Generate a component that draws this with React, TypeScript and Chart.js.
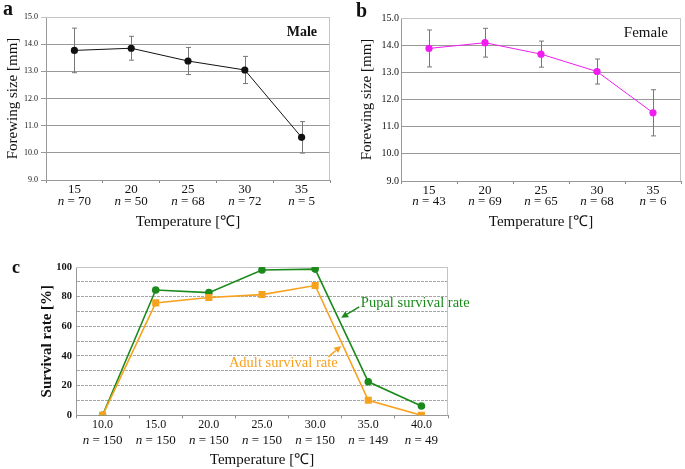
import React, { useEffect, useRef } from 'react';
import { Chart, registerables } from 'chart.js';

Chart.register(...registerables);

const FONT = '"Liberation Serif", "Times New Roman", serif';
const TEXT = '#111';
const GREEN = '#1b8a1b';
const ORANGE = '#f6a21e';
const MAGENTA = '#f01cf0';

// ---- Data ----
const tempsAB = ['15', '20', '25', '30', '35'];
const maleN = [70, 50, 68, 72, 5];
const maleMean = [13.77, 13.85, 13.38, 13.05, 10.57];
const maleSD = [0.82, 0.44, 0.5, 0.5, 0.58];
const femaleN = [43, 69, 65, 68, 6];
const femaleMean = [13.88, 14.09, 13.67, 13.03, 11.51];
const femaleSD = [0.68, 0.53, 0.48, 0.46, 0.85];

const tempsC = ['10.0', '15.0', '20.0', '25.0', '30.0', '35.0', '40.0'];
const survN = [150, 150, 150, 150, 150, 149, 49];
const pupalRate = [0, 84.5, 82.7, 98.0, 98.6, 22.6, 6.3];
const adultRate = [0, 75.8, 79.4, 81.4, 87.5, 10.1, 0];

const survivalNotes = [
  { text: 'Pupal survival rate', color: GREEN, at: [4.86, 75.6], align: 'left', from: [4.83, 73.1], to: [4.49, 65.7] },
  { text: 'Adult survival rate', color: ORANGE, at: [3.4, 35.2], align: 'center', from: [4.25, 39.4], to: [4.49, 46.8] },
];

// ---- Plugins ----
function errorBarPlugin(means: number[], sds: number[]) {
  return {
    id: 'errbars',
    beforeDatasetsDraw(chart: any) {
      const { ctx } = chart;
      const x = chart.scales.x;
      const y = chart.scales.y;
      ctx.save();
      ctx.strokeStyle = '#777';
      ctx.lineWidth = 1;
      means.forEach((m, i) => {
        const px = Math.round(x.getPixelForValue(i)) + 0.5;
        const top = y.getPixelForValue(m + sds[i]);
        const bot = y.getPixelForValue(m - sds[i]);
        ctx.beginPath();
        ctx.moveTo(px, top);
        ctx.lineTo(px, bot);
        ctx.moveTo(px - 2.5, top);
        ctx.lineTo(px + 2.5, top);
        ctx.moveTo(px - 2.5, bot);
        ctx.lineTo(px + 2.5, bot);
        ctx.stroke();
      });
      ctx.restore();
    },
  };
}

function nLabelPlugin(ns: number[], offsetY: number, size: number) {
  return {
    id: 'nlabels',
    afterDraw(chart: any) {
      const { ctx, chartArea } = chart;
      const x = chart.scales.x;
      const italic = `italic ${size}px ${FONT}`;
      const reg = `${size}px ${FONT}`;
      ctx.save();
      ctx.fillStyle = TEXT;
      ctx.textBaseline = 'middle';
      ctx.textAlign = 'left';
      ns.forEach((n, i) => {
        ctx.font = italic;
        const w1 = ctx.measureText('n').width;
        const rest = ` = ${n}`;
        ctx.font = reg;
        const w2 = ctx.measureText(rest).width;
        const cx = x.getPixelForValue(i);
        const start = cx - (w1 + w2) / 2;
        const yy = chartArea.bottom + offsetY;
        ctx.font = italic;
        ctx.fillText('n', start, yy);
        ctx.font = reg;
        ctx.fillText(rest, start + w1, yy);
      });
      ctx.restore();
    },
  };
}

const framePlugin = {
  id: 'frame',
  beforeDatasetsDraw(chart: any) {
    const { ctx, chartArea } = chart;
    ctx.save();
    ctx.strokeStyle = '#c4c4c4';
    ctx.lineWidth = 1;
    ctx.beginPath();
    const r = Math.round(chartArea.right) - 0.5;
    const t = Math.round(chartArea.top) + 0.5;
    ctx.moveTo(chartArea.left, t);
    ctx.lineTo(r, t);
    ctx.lineTo(r, chartArea.bottom);
    ctx.stroke();
    ctx.restore();
  },
};

function cornerLabelPlugin(text: string, bold: boolean, size: number) {
  return {
    id: 'corner',
    afterDraw(chart: any) {
      const { ctx, chartArea } = chart;
      ctx.save();
      ctx.fillStyle = TEXT;
      ctx.font = `${bold ? 'bold ' : ''}${size}px ${FONT}`;
      ctx.textAlign = 'right';
      ctx.textBaseline = 'middle';
      ctx.fillText(text, chartArea.right - 13, chartArea.top + 15);
      ctx.restore();
    },
  };
}

const notesPlugin = {
  id: 'notes',
  afterDraw(chart: any) {
    const { ctx } = chart;
    const x = chart.scales.x;
    const y = chart.scales.y;
    ctx.save();
    survivalNotes.forEach((n) => {
      ctx.fillStyle = n.color;
      ctx.strokeStyle = n.color;
      ctx.font = `14.5px ${FONT}`;
      ctx.textAlign = n.align as CanvasTextAlign;
      ctx.textBaseline = 'middle';
      ctx.fillText(n.text, x.getPixelForValue(n.at[0]), y.getPixelForValue(n.at[1]));
      const fx = x.getPixelForValue(n.from[0]);
      const fy = y.getPixelForValue(n.from[1]);
      const tx = x.getPixelForValue(n.to[0]);
      const ty = y.getPixelForValue(n.to[1]);
      const ang = Math.atan2(ty - fy, tx - fx);
      const len = 7;
      const hw = 3.5;
      const bx = tx - len * Math.cos(ang);
      const by = ty - len * Math.sin(ang);
      ctx.lineWidth = 1.5;
      ctx.beginPath();
      ctx.moveTo(fx, fy);
      ctx.lineTo(bx, by);
      ctx.stroke();
      ctx.beginPath();
      ctx.moveTo(tx, ty);
      ctx.lineTo(bx + hw * Math.sin(ang), by - hw * Math.cos(ang));
      ctx.lineTo(bx - hw * Math.sin(ang), by + hw * Math.cos(ang));
      ctx.closePath();
      ctx.fill();
    });
    ctx.restore();
  },
};

// ---- Configs ----
function forewingConfig(opts: {
  means: number[]; sds: number[]; ns: number[]; color: string; corner: string; cornerBold: boolean; cornerSize: number;
  tickSize: number; yWidth: number; padRight: number; padTop: number; xHeight: number; yTitlePad: number; xTitlePad: number;
  yTickPad: number; yTickLen: number; nOffset: number;
}): any {
  return {
    type: 'line',
    data: {
      labels: tempsAB,
      datasets: [
        {
          data: opts.means,
          borderColor: opts.color,
          borderWidth: 1,
          pointBackgroundColor: opts.color,
          pointBorderColor: opts.color,
          pointBorderWidth: 0,
          pointRadius: 3.6,
          tension: 0,
        },
      ],
    },
    options: {
      animation: false,
      responsive: true,
      maintainAspectRatio: false,
      layout: { padding: { left: 0, right: opts.padRight, top: opts.padTop, bottom: 0 } },
      plugins: { legend: { display: false }, tooltip: { enabled: false } },
      scales: {
        x: {
          type: 'category',
          offset: true,
          grid: { offset: true, drawOnChartArea: false, drawTicks: true, tickLength: 3, color: '#888' },
          border: { color: '#999' },
          ticks: { color: TEXT, font: { family: FONT, size: 13, lineHeight: 1 }, padding: 0, maxRotation: 0, autoSkip: false },
          title: {
            display: true,
            text: 'Temperature [℃]',
            color: TEXT,
            font: { family: FONT, size: 15, lineHeight: 1.2 },
            padding: { top: 0, bottom: opts.xTitlePad },
          },
          afterFit: (s: any) => { s.height = opts.xHeight; },
        },
        y: {
          min: 9,
          max: 15,
          ticks: {
            stepSize: 1,
            autoSkip: false,
            color: TEXT,
            font: { family: FONT, size: opts.tickSize },
            padding: opts.yTickPad,
            callback: (v: any) => Number(v).toFixed(1),
          },
          grid: {
            color: (c: any) => (c.tick && c.tick.value === 15 ? '#c4c4c4' : '#999'),
            drawTicks: opts.yTickLen > 0,
            tickLength: opts.yTickLen,
          },
          border: { color: '#999' },
          title: {
            display: true,
            text: 'Forewing size [mm]',
            color: TEXT,
            font: { family: FONT, size: 15, lineHeight: 1.2 },
            padding: { top: opts.yTitlePad, bottom: 0 },
          },
          afterFit: (s: any) => { s.width = opts.yWidth; },
        },
      },
    },
    plugins: [framePlugin, errorBarPlugin(opts.means, opts.sds), nLabelPlugin(opts.ns, opts.nOffset, 13), cornerLabelPlugin(opts.corner, opts.cornerBold, opts.cornerSize)],
  };
}

function survivalConfig(): any {
  return {
    type: 'line',
    data: {
      labels: tempsC,
      datasets: [
        {
          label: 'Adult survival rate',
          data: adultRate,
          borderColor: ORANGE,
          borderWidth: 1.6,
          pointStyle: 'rect',
          pointRadius: 5,
          pointBackgroundColor: ORANGE,
          pointBorderColor: ORANGE,
          pointBorderWidth: 0,
          tension: 0,
        },
        {
          label: 'Pupal survival rate',
          data: pupalRate,
          borderColor: GREEN,
          borderWidth: 1.6,
          pointStyle: 'circle',
          pointRadius: 3.8,
          pointBackgroundColor: GREEN,
          pointBorderColor: GREEN,
          pointBorderWidth: 0,
          tension: 0,
        },
      ],
    },
    options: {
      animation: false,
      responsive: true,
      maintainAspectRatio: false,
      layout: { padding: { left: 0, right: 52, top: 17, bottom: 0 } },
      plugins: { legend: { display: false }, tooltip: { enabled: false } },
      scales: {
        x: {
          type: 'category',
          offset: true,
          grid: { offset: true, drawOnChartArea: false, drawTicks: true, tickLength: 3, color: '#888' },
          border: { color: '#999' },
          ticks: { color: TEXT, font: { family: FONT, size: 12, lineHeight: 1 }, padding: 1, maxRotation: 0, autoSkip: false },
          title: {
            display: true,
            text: 'Temperature [℃]',
            color: TEXT,
            font: { family: FONT, size: 15, lineHeight: 1.2 },
            padding: { top: 0, bottom: 0 },
          },
          afterFit: (s: any) => { s.height = 53.7; },
        },
        y: {
          min: 0,
          max: 100,
          ticks: {
            stepSize: 10,
            autoSkip: false,
            color: TEXT,
            font: { family: FONT, size: 10.5, weight: 'bold' },
            padding: 4,
            callback: (v: any) => (Number(v) % 20 === 0 ? String(v) : ''),
          },
          grid: {
            color: (c: any) => (c.tick && c.tick.value === 100 ? '#c4c4c4' : '#a6a6a6'),
            drawTicks: false,
          },
          border: { color: '#999', dash: [3, 1] },
          title: {
            display: true,
            text: 'Survival rate [%]',
            color: TEXT,
            font: { family: FONT, size: 15, weight: 'bold', lineHeight: 1.2 },
            padding: { top: 38.5, bottom: 0 },
          },
          afterFit: (s: any) => { s.width = 76; },
        },
      },
    },
    plugins: [framePlugin, nLabelPlugin(survN, 25.7, 13), notesPlugin],
  };
}

function ChartBox(props: { left: number; top: number; width: number; height: number; make: () => any }) {
  const ref = useRef<HTMLCanvasElement | null>(null);
  useEffect(() => {
    if (!ref.current) return;
    const chart = new Chart(ref.current, props.make());
    return () => chart.destroy();
  }, []);
  return (
    <div style={{ position: 'absolute', left: props.left, top: props.top, width: props.width, height: props.height }}>
      <canvas ref={ref} />
    </div>
  );
}

const letterStyle: React.CSSProperties = {
  position: 'absolute',
  fontFamily: FONT,
  fontWeight: 'bold',
  color: TEXT,
  margin: 0,
};

export default function App() {
  return (
    <div style={{ position: 'absolute', left: 0, top: 0, width: 685, height: 469, background: '#fff', overflow: 'hidden' }}>
      <ChartBox
        left={0}
        top={0}
        width={340}
        height={240}
        make={() =>
          forewingConfig({
            means: maleMean, sds: maleSD, ns: maleN, color: '#111', corner: 'Male', cornerBold: true, cornerSize: 14,
            tickSize: 8, yWidth: 46, padRight: 10, padTop: 17, xHeight: 60, yTitlePad: 4, xTitlePad: 9,
            yTickPad: 3, yTickLen: 5, nOffset: 22,
          })
        }
      />
      <ChartBox
        left={340}
        top={0}
        width={345}
        height={240}
        make={() =>
          forewingConfig({
            means: femaleMean, sds: femaleSD, ns: femaleN, color: MAGENTA, corner: 'Female', cornerBold: false, cornerSize: 15,
            tickSize: 10, yWidth: 61, padRight: 2, padTop: 18, xHeight: 59, yTitlePad: 18.5, xTitlePad: 9,
            yTickPad: 2, yTickLen: 0, nOffset: 21,
          })
        }
      />
      <ChartBox left={0} top={250} width={500} height={219} make={survivalConfig} />
      <div style={{ ...letterStyle, left: 3, top: -2, fontSize: 20, lineHeight: '20px' }}>a</div>
      <div style={{ ...letterStyle, left: 356, top: 0, fontSize: 20, lineHeight: '20px' }}>b</div>
      <div style={{ ...letterStyle, left: 12, top: 258, fontSize: 18, lineHeight: '18px' }}>c</div>
    </div>
  );
}
